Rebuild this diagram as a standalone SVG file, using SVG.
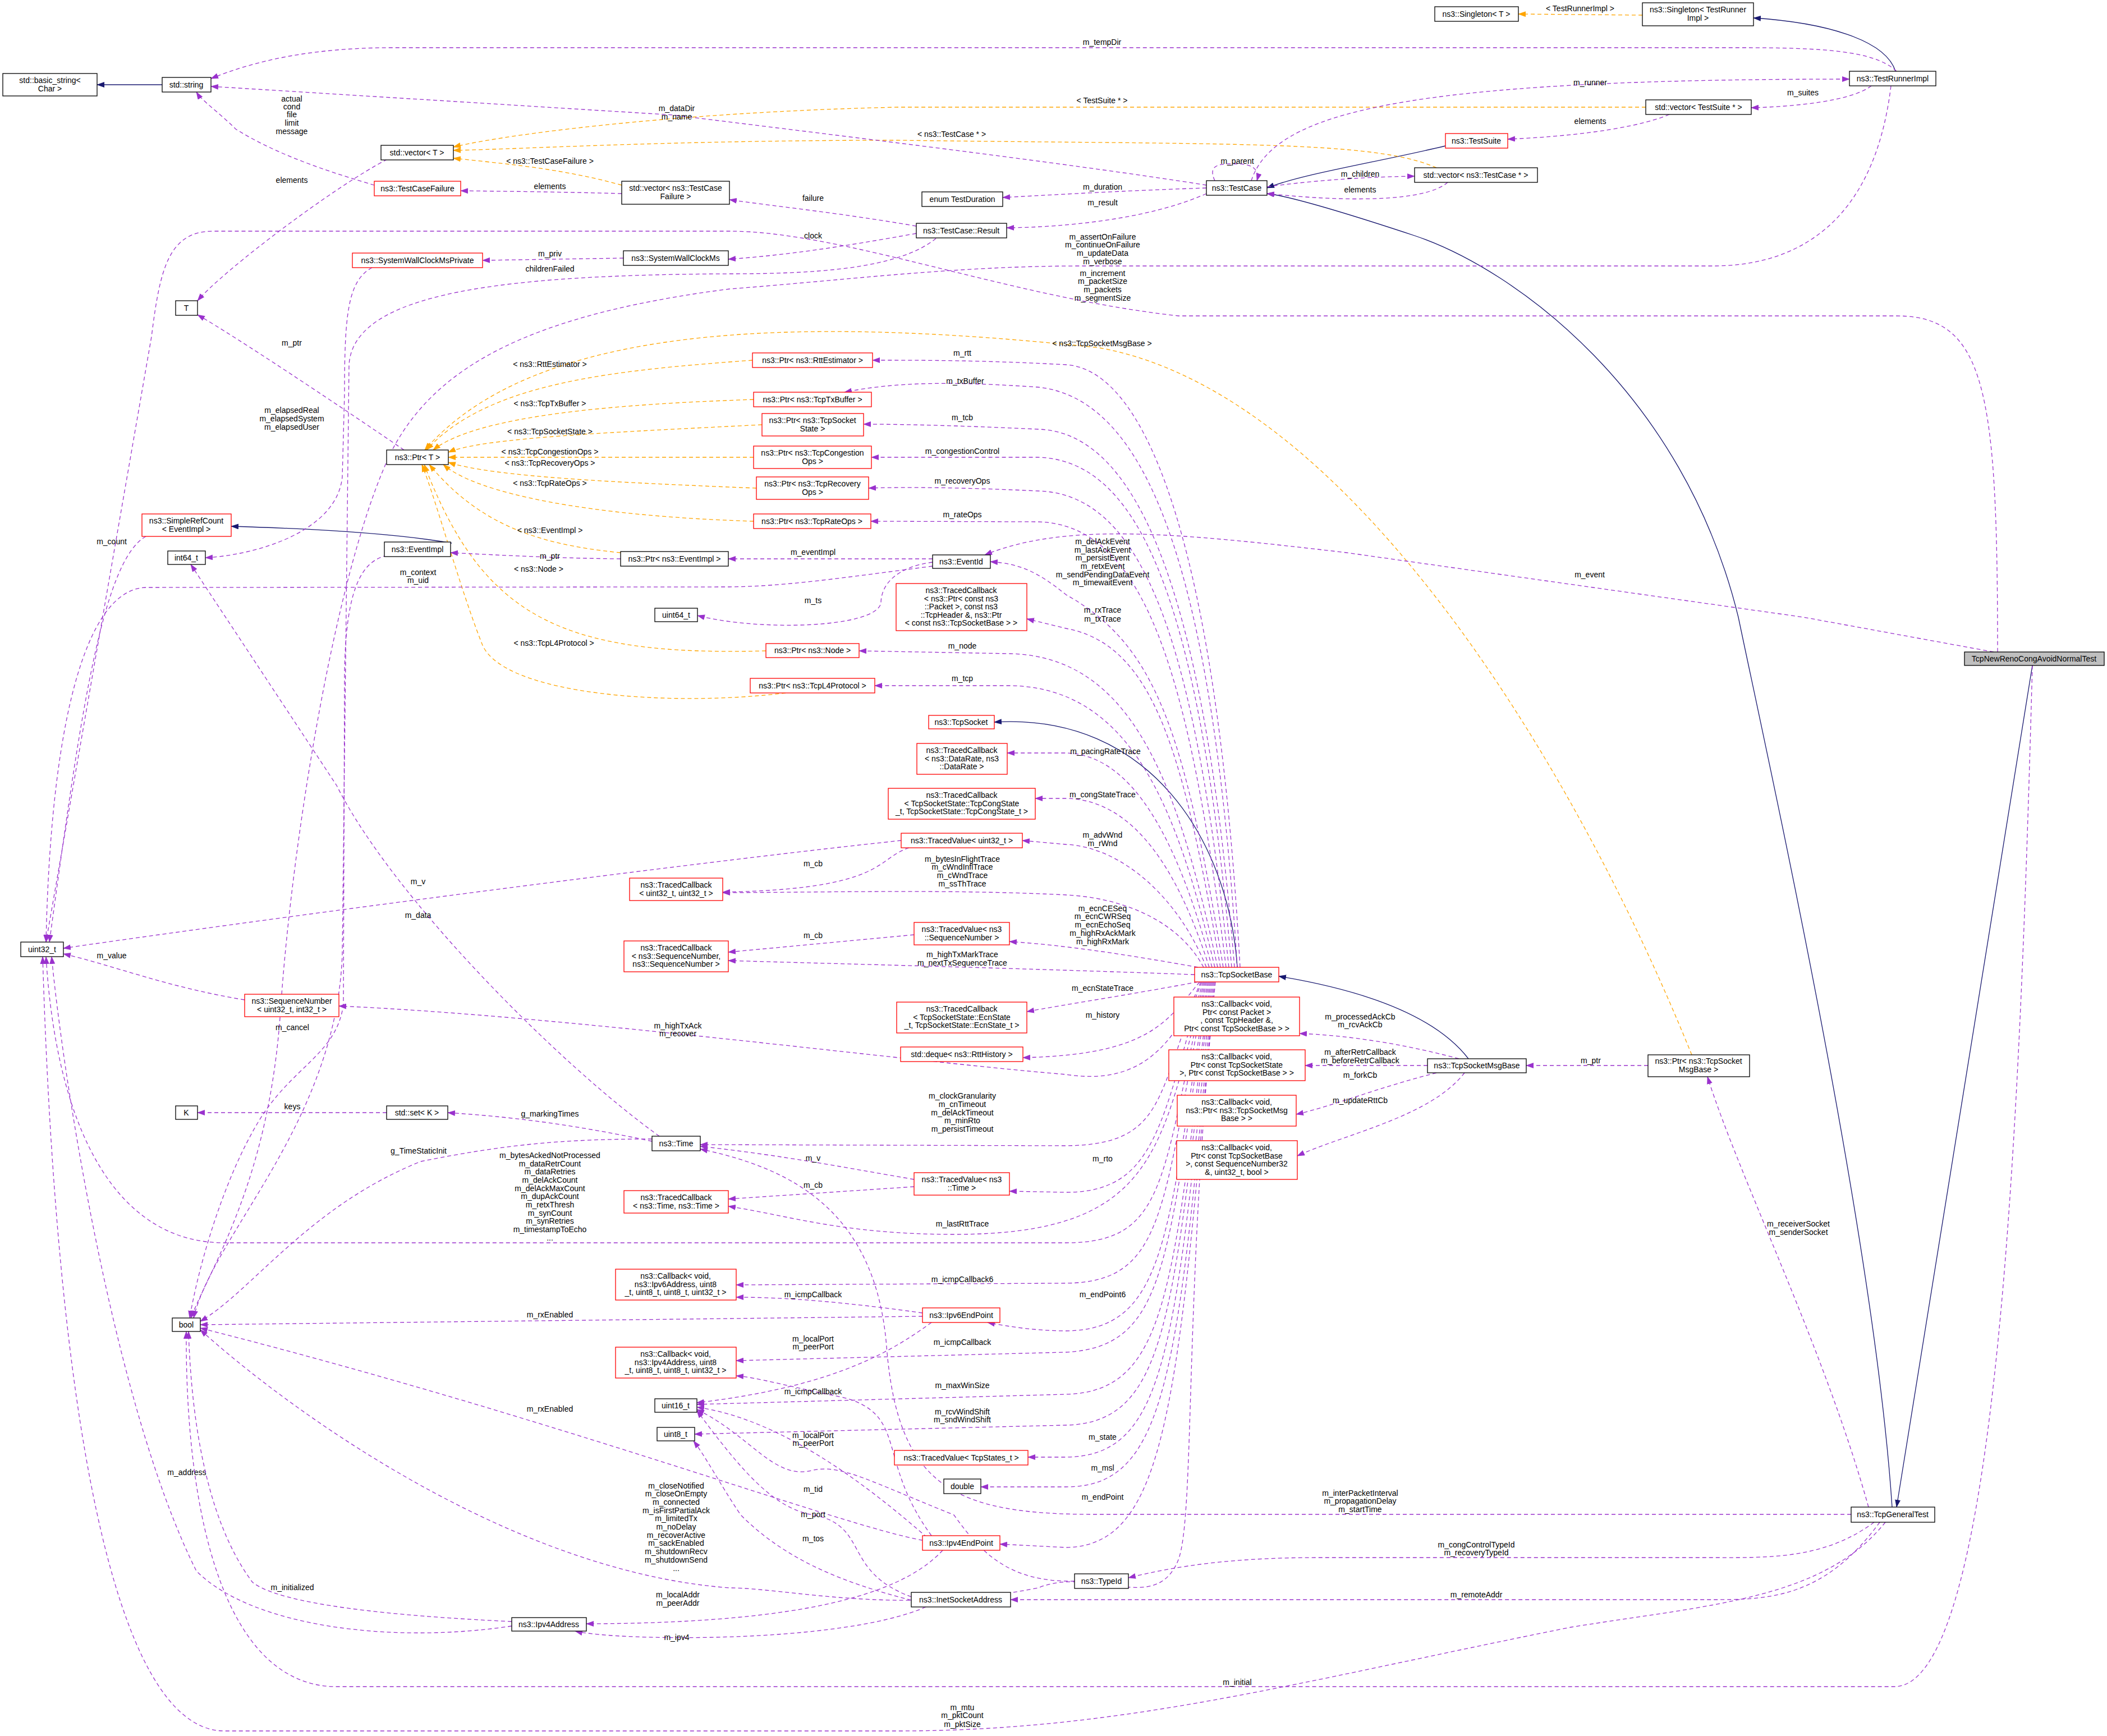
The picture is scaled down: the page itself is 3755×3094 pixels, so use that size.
<svg xmlns="http://www.w3.org/2000/svg" width="3755" height="3094" viewBox="0 0 3755 3094">
<style>
text{font-family:"Liberation Sans",Arial,sans-serif;font-size:14px;text-anchor:middle;fill:#000}
.k{fill:#fff;stroke:#000;stroke-width:1.3}
.r{fill:#fff;stroke:#f00;stroke-width:1.3}
.g{fill:#bfbfbf;stroke:#000;stroke-width:1.3}
.p{fill:none;stroke:#9a32cd;stroke-width:1.3;stroke-dasharray:7,5;marker-end:url(#ap)}
.o{fill:none;stroke:#ffa500;stroke-width:1.3;stroke-dasharray:7,5;marker-end:url(#ao)}
.b{fill:none;stroke:#191970;stroke-width:1.3;marker-end:url(#ab)}
</style>
<defs>
<marker id="ap" markerWidth="14" markerHeight="10" refX="13" refY="5" orient="auto" markerUnits="userSpaceOnUse"><path d="M0,0 L14,5 L0,10 z" fill="#9a32cd"/></marker>
<marker id="ao" markerWidth="14" markerHeight="10" refX="13" refY="5" orient="auto" markerUnits="userSpaceOnUse"><path d="M0,0 L14,5 L0,10 z" fill="#ffa500"/></marker>
<marker id="ab" markerWidth="14" markerHeight="10" refX="13" refY="5" orient="auto" markerUnits="userSpaceOnUse"><path d="M0,0 L14,5 L0,10 z" fill="#191970"/></marker>
</defs>
<rect width="3755" height="3094" fill="#fff"/>
<g id="edges">
<!-- inheritance -->
<path class="b" d="M289,151 L173,151"/>
<path class="b" d="M3378,127 C3360,70 3250,40 3125,32"/>
<path class="b" d="M2576,260 C2450,290 2320,310 2258,335"/>
<path class="b" d="M3372,2686 C3340,2200 3150,1350 3098,1100 C3000,700 2700,480 2521,420 C2400,380 2300,350 2258,345"/>
<path class="b" d="M3622,1186 L3380,2686"/>
<path class="b" d="M2617,1887 C2550,1800 2400,1760 2279,1740"/>
<path class="b" d="M2205,1724 C2190,1500 2050,1270 1772,1287"/>
<path class="b" d="M805,968 C700,950 550,942 412,938"/>
<!-- templates -->
<path class="o" d="M2927,27 L2706,25"/><text x="2816" y="20">&lt; TestRunnerImpl &gt;</text>
<path class="o" d="M2933,191 L1600,191 C1200,200 900,240 808,262"/><text x="1964" y="184">&lt; TestSuite * &gt;</text>
<path class="o" d="M2560,299 C2450,250 2200,258 1600,250 C1200,250 950,265 808,268"/><text x="1696" y="244">&lt; ns3::TestCase * &gt;</text>
<path class="o" d="M1108,330 C1000,300 900,292 808,282"/><text x="980" y="292">&lt; ns3::TestCaseFailure &gt;</text>
<path class="o" d="M3015,1880 C2800,1350 2400,700 1960,620 C1400,560 950,580 757,802"/><text x="1964" y="617">&lt; ns3::TcpSocketMsgBase &gt;</text>
<path class="o" d="M1341,642 C1100,660 870,680 760,802"/><text x="980" y="654">&lt; ns3::RttEstimator &gt;</text>
<path class="o" d="M1343,712 C1100,720 850,740 772,802"/><text x="980" y="724">&lt; ns3::TcpTxBuffer &gt;</text>
<path class="o" d="M1358,757 C1100,770 860,780 799,806"/><text x="980" y="774">&lt; ns3::TcpSocketState &gt;</text>
<path class="o" d="M1343,815 L799,815"/><text x="980" y="810">&lt; ns3::TcpCongestionOps &gt;</text>
<path class="o" d="M1348,870 C1100,860 880,850 799,824"/><text x="980" y="830">&lt; ns3::TcpRecoveryOps &gt;</text>
<path class="o" d="M1343,929 C1050,920 850,880 790,828"/><text x="980" y="866">&lt; ns3::TcpRateOps &gt;</text>
<path class="o" d="M1106,985 C950,970 850,930 765,828"/><text x="980" y="950">&lt; ns3::EventImpl &gt;</text>
<path class="o" d="M1365,1160 C1000,1170 860,1100 756,828"/><text x="960" y="1019">&lt; ns3::Node &gt;</text>
<path class="o" d="M1400,1235 C1200,1260 900,1240 860,1150 C820,1050 780,900 752,828"/><text x="987" y="1151">&lt; ns3::TcpL4Protocol &gt;</text>
<!-- test framework members -->
<path class="p" d="M3380,127 C3340,90 3250,85 3100,85 L700,85 C550,85 450,110 376,140"/><text x="1964" y="80">m_tempDir</text>
<path class="p" d="M2230,322 C2270,200 2500,141 3296,141"/><text x="2834" y="152">m_runner</text>
<path class="p" d="M3335,153 C3300,180 3200,190 3121,192"/><text x="3213" y="170">m_suites</text>
<path class="p" d="M2975,204 C2900,235 2760,245 2687,248"/><text x="2834" y="221">elements</text>
<path class="p" d="M2165,322 C2150,290 2180,292 2205,292 C2235,292 2245,305 2240,322"/><text x="2205" y="292">m_parent</text>
<path class="p" d="M2150,335 C2000,340 1900,346 1787,352"/><text x="1965" y="338">m_duration</text>
<path class="p" d="M2258,333 C2350,320 2450,315 2521,314"/><text x="2424" y="315">m_children</text>
<path class="p" d="M2580,325 C2540,360 2400,360 2258,345"/><text x="2424" y="343">elements</text>
<path class="p" d="M2150,345 C2050,390 1900,405 1794,406"/><text x="1965" y="366">m_result</text>
<path class="p" d="M2150,330 C1900,290 1400,230 1200,205 L376,154"/><text x="1206" y="198">m_dataDir</text><text x="1206" y="213">m_name</text>
<path class="p" d="M1633,403 C1500,380 1400,370 1300,356"/><text x="1449" y="358">failure</text>
<path class="p" d="M1633,416 C1500,440 1400,455 1298,462"/><text x="1449" y="425">clock</text>
<path class="p" d="M1108,345 C1000,342 900,341 821,340"/><text x="980" y="337">elements</text>
<path class="p" d="M667,330 C600,310 500,280 420,230 C390,200 360,180 350,164"/><text x="520" y="181">actual</text><text x="520" y="195">cond</text><text x="520" y="209">file</text><text x="520" y="224">limit</text><text x="520" y="239">message</text>
<path class="p" d="M690,284 C600,330 400,480 352,536"/><text x="520" y="326">elements</text>
<path class="p" d="M1111,460 L860,464"/><text x="980" y="457">m_priv</text>
<path class="p" d="M720,802 C600,720 420,600 352,561"/><text x="520" y="616">m_ptr</text>
<path class="p" d="M663,477 C620,500 614,560 614,700 L610,850 C600,950 450,990 366,994"/><text x="520" y="736">m_elapsedReal</text><text x="520" y="751">m_elapsedSystem</text><text x="520" y="766">m_elapsedUser</text>
<path class="p" d="M1668,425 C1600,480 1450,488 1300,488 C900,490 630,520 622,650 L610,1700 C600,2000 380,2200 345,2349"/>
<text x="980" y="484">childrenFailed</text>
<path class="p" d="M3370,153 C3340,400 3200,474 3053,474 L1926,474 C1700,474 1500,500 1300,515 C950,560 780,650 700,800 C600,1000 520,1500 500,1800 C480,2100 380,2250 340,2349"/>
<text x="1965" y="427">m_assertOnFailure</text><text x="1965" y="441">m_continueOnFailure</text><text x="1965" y="456">m_updateData</text><text x="1965" y="471">m_verbose</text>
<path class="p" d="M3560,1162 C3560,700 3540,563 3380,563 L2100,563 C1800,530 1500,412 1300,412 L380,412 C300,412 285,480 270,600 L82,1679"/>
<text x="1965" y="492">m_increment</text><text x="1965" y="506">m_packetSize</text><text x="1965" y="521">m_packets</text><text x="1965" y="536">m_segmentSize</text>
<path class="p" d="M3553,1162 L3214,1100 L2400,985 C2100,950 1900,930 1755,989"/><text x="2833" y="1029">m_event</text>
<!-- event -->
<path class="p" d="M1106,996 C1000,995 900,990 803,985"/><text x="980" y="996">m_ptr</text>
<path class="p" d="M1662,996 L1298,996"/><text x="1449" y="989">m_eventImpl</text>
<path class="p" d="M1662,1009 C1500,1030 1400,1045 1300,1046 L260,1047 C150,1050 90,1300 82,1679"/><text x="745" y="1025">m_context</text><text x="745" y="1039">m_uid</text>
<path class="p" d="M1662,1002 C1600,1010 1570,1040 1570,1075 C1560,1120 1350,1125 1243,1097"/><text x="1449" y="1075">m_ts</text>
<path class="p" d="M260,956 C180,1000 140,1300 88,1679"/><text x="199" y="970">m_count</text>
<path class="p" d="M690,990 C640,1000 616,1060 614,1200 L612,1790 C600,1880 520,1900 460,2000 C400,2100 355,2250 338,2349"/><text x="521" y="1836">m_cancel</text>
<!-- TcpSocketBase upward -->
<path class="p" d="M2210,1724 C2170,1000 2050,660 1900,650 C1750,642 1650,642 1555,642"/><text x="1715" y="634">m_rtt</text>
<path class="p" d="M2205,1724 C2160,1000 2040,710 1850,690 C1700,680 1600,680 1505,699"/><text x="1720" y="684">m_txBuffer</text>
<path class="p" d="M2200,1724 C2150,1100 2040,770 1850,765 C1700,758 1600,756 1539,756"/><text x="1715" y="749">m_tcb</text>
<path class="p" d="M2195,1724 C2140,1100 2040,820 1850,815 L1553,815"/><text x="1715" y="809">m_congestionControl</text>
<path class="p" d="M2190,1724 C2130,1150 2040,880 1850,875 C1700,868 1600,868 1548,870"/><text x="1715" y="862">m_recoveryOps</text>
<path class="p" d="M2185,1724 C2120,1200 2040,935 1850,930 L1552,929"/><text x="1715" y="922">m_rateOps</text>
<path class="p" d="M2180,1724 C2110,1300 2060,1150 1900,1060 C1850,1020 1820,1005 1765,1001"/><text x="1965" y="970">m_delAckEvent</text><text x="1965" y="985">m_lastAckEvent</text><text x="1965" y="999">m_persistEvent</text><text x="1965" y="1014">m_retxEvent</text><text x="1965" y="1029">m_sendPendingDataEvent</text><text x="1965" y="1043">m_timewaitEvent</text>
<path class="p" d="M2175,1724 C2110,1350 2060,1150 1900,1120 L1830,1103"/><text x="1965" y="1092">m_rxTrace</text><text x="1965" y="1108">m_txTrace</text>
<path class="p" d="M2170,1724 C2100,1400 2020,1170 1800,1165 L1531,1160"/><text x="1715" y="1156">m_node</text>
<path class="p" d="M2165,1724 C2100,1450 2020,1225 1800,1222 L1559,1222"/><text x="1715" y="1214">m_tcp</text>
<path class="p" d="M2160,1724 C2100,1500 2020,1345 1900,1342 L1795,1342"/><text x="1970" y="1344">m_pacingRateTrace</text>
<path class="p" d="M2155,1724 C2100,1550 2020,1425 1900,1423 L1845,1423"/><text x="1965" y="1421">m_congStateTrace</text>
<path class="p" d="M2150,1724 C2100,1600 2000,1510 1900,1505 L1822,1498"/><text x="1965" y="1493">m_advWnd</text><text x="1965" y="1508">m_rWnd</text>
<path class="p" d="M2145,1724 C2100,1640 2000,1600 1900,1595 C1700,1585 1500,1590 1288,1591"/><text x="1715" y="1536">m_bytesInFlightTrace</text><text x="1715" y="1550">m_cWndInflTrace</text><text x="1715" y="1565">m_cWndTrace</text><text x="1715" y="1580">m_ssThTrace</text>
<path class="p" d="M2135,1724 C2000,1700 1900,1685 1799,1678"/><text x="1965" y="1624">m_ecnCESeq</text><text x="1965" y="1638">m_ecnCWRSeq</text><text x="1965" y="1653">m_ecnEchoSeq</text><text x="1965" y="1668">m_highRxAckMark</text><text x="1965" y="1683">m_highRxMark</text>
<path class="p" d="M2129,1737 C1800,1725 1500,1718 1298,1712"/><text x="1715" y="1706">m_highTxMarkTrace</text><text x="1715" y="1721">m_nextTxSequenceTrace</text>
<!-- TcpSocketBase downward -->
<path class="p" d="M2135,1750 C2000,1775 1900,1790 1830,1803"/><text x="1965" y="1766">m_ecnStateTrace</text>
<path class="p" d="M2138,1750 C2080,1820 2050,1880 1823,1885"/><text x="1965" y="1814">m_history</text>
<path class="p" d="M2140,1750 C2080,1900 2000,1930 1900,1915 C1600,1890 1000,1810 604,1793"/><text x="1208" y="1833">m_highTxAck</text><text x="1208" y="1847">m_recover</text>
<path class="p" d="M2142,1750 C2060,1950 2080,2040 1900,2042 L1248,2040"/><text x="1715" y="1958">m_clockGranularity</text><text x="1715" y="1973">m_cnTimeout</text><text x="1715" y="1988">m_delAckTimeout</text><text x="1715" y="2002">m_minRto</text><text x="1715" y="2017">m_persistTimeout</text>
<path class="p" d="M2144,1750 C2070,2000 2060,2125 1900,2125 L1799,2123"/><text x="1965" y="2070">m_rto</text>
<path class="p" d="M2146,1750 C2070,2050 2060,2200 1700,2200 C1500,2200 1400,2165 1298,2150"/><text x="1715" y="2186">m_lastRttTrace</text>
<path class="p" d="M2148,1750 C2070,2100 2080,2215 1900,2215 L400,2215 C200,2215 100,2000 82,1705"/>
<text x="980" y="2064">m_bytesAckedNotProcessed</text><text x="980" y="2079">m_dataRetrCount</text><text x="980" y="2093">m_dataRetries</text><text x="980" y="2108">m_delAckCount</text><text x="980" y="2123">m_delAckMaxCount</text><text x="980" y="2137">m_dupAckCount</text><text x="980" y="2152">m_retxThresh</text><text x="980" y="2167">m_synCount</text><text x="980" y="2181">m_synRetries</text><text x="980" y="2196">m_timestampToEcho</text><text x="980" y="2211">...</text>
<path class="p" d="M2150,1750 C2070,2150 2080,2285 1900,2287 L1312,2290"/><text x="1715" y="2285">m_icmpCallback6</text>
<path class="p" d="M2152,1750 C2080,2200 2080,2370 1900,2372 C1850,2372 1800,2365 1760,2357"/><text x="1965" y="2312">m_endPoint6</text>
<path class="p" d="M2154,1750 C2080,2250 2080,2400 1900,2410 L1312,2425"/><text x="1715" y="2397">m_icmpCallback</text>
<path class="p" d="M2156,1750 C2090,2300 2080,2480 1900,2485 L1242,2503"/><text x="1715" y="2474">m_maxWinSize</text>
<path class="p" d="M2158,1750 C2090,2350 2080,2535 1900,2540 L1238,2556"/><text x="1715" y="2521">m_rcvWindShift</text><text x="1715" y="2535">m_sndWindShift</text>
<path class="p" d="M2160,1750 C2095,2400 2080,2595 1900,2597 L1832,2597"/><text x="1965" y="2566">m_state</text>
<path class="p" d="M2162,1750 C2100,2450 2080,2650 1900,2650 L1748,2650"/><text x="1965" y="2621">m_msl</text>
<path class="p" d="M2164,1750 C2100,2500 2080,2755 1900,2758 L1782,2752"/><text x="1965" y="2673">m_endPoint</text>
<path class="p" d="M2166,1750 C2110,2300 2130,2700 2100,2780 C2060,2880 1950,2790 1850,2830 C1600,2880 1400,2830 1300,2830 C900,2800 500,2500 357,2370"/>
<text x="1205" y="2653">m_closeNotified</text><text x="1205" y="2667">m_closeOnEmpty</text><text x="1205" y="2682">m_connected</text><text x="1205" y="2697">m_isFirstPartialAck</text><text x="1205" y="2711">m_limitedTx</text><text x="1205" y="2726">m_noDelay</text><text x="1205" y="2741">m_recoverActive</text><text x="1205" y="2755">m_sackEnabled</text><text x="1205" y="2770">m_shutdownRecv</text><text x="1205" y="2785">m_shutdownSend</text><text x="1205" y="2800">...</text>
<!-- traced values etc -->
<path class="p" d="M1606,1498 C1300,1530 600,1620 113,1690"/><text x="745" y="1576">m_v</text>
<path class="p" d="M1620,1511 C1560,1530 1580,1585 1288,1590"/><text x="1449" y="1544">m_cb</text>
<path class="p" d="M1629,1666 L1298,1697"/><text x="1449" y="1672">m_cb</text>
<path class="p" d="M436,1782 C300,1760 200,1720 113,1700"/><text x="199" y="1708">m_value</text>
<path class="p" d="M1629,2102 C1500,2080 1400,2060 1248,2043"/><text x="1449" y="2069">m_v</text>
<path class="p" d="M1629,2115 L1298,2137"/><text x="1449" y="2117">m_cb</text>
<path class="p" d="M1175,2025 C1000,1900 700,1600 600,1400 L340,1006"/><text x="745" y="1636">m_data</text>
<path class="p" d="M1162,2034 C1000,2000 900,1990 798,1983"/><text x="980" y="1990">g_markingTimes</text>
<path class="p" d="M689,1983 L352,1983"/><text x="521" y="1977">keys</text>
<path class="p" d="M1162,2030 C1000,2030 900,2040 750,2070 C550,2150 450,2300 357,2355"/><text x="746" y="2056">g_TimeStaticInit</text>
<path class="p" d="M1644,2340 C1500,2320 1400,2312 1312,2312"/><text x="1449" y="2312">m_icmpCallback</text>
<path class="p" d="M1644,2346 L357,2361"/><text x="980" y="2348">m_rxEnabled</text>
<path class="p" d="M1660,2357 C1600,2400 1500,2470 1242,2500"/><text x="1449" y="2391">m_localPort</text><text x="1449" y="2405">m_peerPort</text>
<path class="p" d="M1660,2737 C1560,2600 1620,2520 1500,2490 C1400,2470 1350,2455 1312,2452"/><text x="1449" y="2485">m_icmpCallback</text>
<path class="p" d="M1644,2745 C1500,2720 1000,2530 357,2367"/><text x="980" y="2516">m_rxEnabled</text>
<path class="p" d="M1652,2740 C1560,2660 1400,2530 1242,2508"/><text x="1449" y="2563">m_localPort</text><text x="1449" y="2577">m_peerPort</text>
<path class="p" d="M1915,2818 C1800,2820 1750,2770 1700,2700 C1550,2640 1500,2610 1450,2620 C1380,2640 1340,2560 1242,2512"/><text x="1449" y="2659">m_tid</text>
<path class="p" d="M1624,2846 C1500,2800 1550,2720 1450,2700 C1380,2690 1320,2620 1242,2514"/><text x="1449" y="2704">m_port</text>
<path class="p" d="M1624,2852 C1500,2820 1400,2780 1320,2700 C1280,2640 1260,2600 1236,2568"/><text x="1449" y="2747">m_tos</text>
<path class="p" d="M1680,2763 C1600,2850 1400,2893 1045,2894"/><text x="1208" y="2847">m_localAddr</text><text x="1208" y="2862">m_peerAddr</text>
<path class="p" d="M1650,2864 C1500,2930 1100,2925 1025,2907"/><text x="1206" y="2923">m_ipv4</text>
<path class="p" d="M912,2898 C700,2930 450,2900 350,2800 C200,2500 110,1900 92,1705"/><text x="333" y="2629">m_address</text>
<path class="p" d="M912,2890 C700,2880 500,2860 450,2820 C360,2700 340,2500 336,2373"/><text x="521" y="2834">m_initialized</text>
<!-- TcpSocketMsgBase -->
<path class="p" d="M2600,1887 C2500,1860 2400,1845 2316,1842"/><text x="2424" y="1817">m_processedAckCb</text><text x="2424" y="1831">m_rcvAckCb</text>
<path class="p" d="M2544,1899 L2326,1899"/><text x="2424" y="1880">m_afterRetrCallback</text><text x="2424" y="1895">m_beforeRetrCallback</text>
<path class="p" d="M2560,1912 C2450,1940 2380,1970 2310,1986"/><text x="2424" y="1921">m_forkCb</text>
<path class="p" d="M2610,1912 C2550,1990 2400,2020 2312,2060"/><text x="2424" y="1966">m_updateRttCb</text>
<path class="p" d="M2937,1899 L2720,1899"/><text x="2835" y="1895">m_ptr</text>
<!-- TcpGeneralTest -->
<path class="p" d="M3330,2686 C3250,2400 3100,2100 3043,1919"/><text x="3205" y="2186">m_receiverSocket</text><text x="3205" y="2201">m_senderSocket</text>
<path class="p" d="M3299,2699 L1950,2699 C1700,2699 1600,2650 1580,2400 C1560,2150 1400,2080 1248,2048"/><text x="2424" y="2666">m_interPacketInterval</text><text x="2424" y="2680">m_propagationDelay</text><text x="2424" y="2695">m_startTime</text>
<path class="p" d="M3340,2713 C3250,2780 3150,2776 3050,2776 L2350,2776 C2200,2776 2100,2790 2011,2812"/><text x="2631" y="2758">m_congControlTypeId</text><text x="2631" y="2772">m_recoveryTypeId</text>
<path class="p" d="M3350,2713 C3250,2850 3150,2851 3050,2851 L1801,2851"/><text x="2631" y="2847">m_remoteAddr</text>
<path class="p" d="M3622,1186 C3600,2000 3560,2990 3380,3006 L600,3006 C400,3006 330,2700 332,2373"/><text x="2205" y="3003">m_initial</text>
<path class="p" d="M3360,2713 C3250,2850 3050,2860 2800,2900 C2300,3000 2000,3085 1600,3085 L400,3085 C200,3085 100,2500 76,1705"/><text x="1715" y="3048">m_mtu</text><text x="1715" y="3062">m_pktCount</text><text x="1715" y="3078">m_pktSize</text>
</g>
<g id="n1"><rect class="k" x="5" y="131" width="168" height="40"/><text x="89" y="148">std::basic_string&lt;</text><text x="89" y="163">Char &gt;</text></g>
<g id="n2"><rect class="k" x="289" y="138" width="87" height="26"/><text x="332" y="156">std::string</text></g>
<g id="n3"><rect class="k" x="679" y="259" width="129" height="26"/><text x="743" y="277">std::vector&lt; T &gt;</text></g>
<g id="n4"><rect class="r" x="667" y="323" width="154" height="26"/><text x="744" y="341">ns3::TestCaseFailure</text></g>
<g id="n5"><rect class="k" x="1108" y="323" width="192" height="41"/><text x="1204" y="340">std::vector&lt; ns3::TestCase</text><text x="1204" y="355">Failure &gt;</text></g>
<g id="n6"><rect class="r" x="628" y="451" width="232" height="26"/><text x="744" y="469">ns3::SystemWallClockMsPrivate</text></g>
<g id="n7"><rect class="k" x="1111" y="447" width="187" height="26"/><text x="1204" y="465">ns3::SystemWallClockMs</text></g>
<g id="n8"><rect class="k" x="313" y="536" width="39" height="26"/><text x="332" y="554">T</text></g>
<g id="n9"><rect class="k" x="689" y="802" width="110" height="26"/><text x="744" y="820">ns3::Ptr&lt; T &gt;</text></g>
<g id="n10"><rect class="r" x="253" y="916" width="159" height="40"/><text x="332" y="933">ns3::SimpleRefCount</text><text x="332" y="948">&lt; EventImpl &gt;</text></g>
<g id="n11"><rect class="k" x="685" y="966" width="118" height="26"/><text x="744" y="984">ns3::EventImpl</text></g>
<g id="n12"><rect class="k" x="299" y="982" width="67" height="24"/><text x="332" y="999">int64_t</text></g>
<g id="n13"><rect class="k" x="1106" y="983" width="192" height="26"/><text x="1202" y="1001">ns3::Ptr&lt; ns3::EventImpl &gt;</text></g>
<g id="n14"><rect class="k" x="1167" y="1084" width="76" height="24"/><text x="1205" y="1101">uint64_t</text></g>
<g id="n15"><rect class="k" x="37" y="1679" width="76" height="26"/><text x="75" y="1697">uint32_t</text></g>
<g id="n16"><rect class="r" x="1122" y="1565" width="166" height="40"/><text x="1205" y="1582">ns3::TracedCallback</text><text x="1205" y="1597">&lt; uint32_t, uint32_t &gt;</text></g>
<g id="n17"><rect class="r" x="1112" y="1677" width="186" height="55"/><text x="1205" y="1694">ns3::TracedCallback</text><text x="1205" y="1709">&lt; ns3::SequenceNumber,</text><text x="1205" y="1723">ns3::SequenceNumber &gt;</text></g>
<g id="n18"><rect class="r" x="436" y="1772" width="168" height="40"/><text x="520" y="1789">ns3::SequenceNumber</text><text x="520" y="1804">&lt; uint32_t, int32_t &gt;</text></g>
<g id="n19"><rect class="k" x="313" y="1971" width="39" height="24"/><text x="332" y="1988">K</text></g>
<g id="n20"><rect class="k" x="689" y="1971" width="109" height="24"/><text x="743" y="1988">std::set&lt; K &gt;</text></g>
<g id="n21"><rect class="k" x="1162" y="2025" width="86" height="26"/><text x="1205" y="2043">ns3::Time</text></g>
<g id="n22"><rect class="r" x="1112" y="2122" width="186" height="40"/><text x="1205" y="2139">ns3::TracedCallback</text><text x="1205" y="2154">&lt; ns3::Time, ns3::Time &gt;</text></g>
<g id="n23"><rect class="k" x="307" y="2349" width="50" height="24"/><text x="332" y="2366">bool</text></g>
<g id="n24"><rect class="r" x="1097" y="2262" width="215" height="55"/><text x="1204" y="2279">ns3::Callback&lt; void,</text><text x="1204" y="2294">ns3::Ipv6Address, uint8</text><text x="1204" y="2308">_t, uint8_t, uint8_t, uint32_t &gt;</text></g>
<g id="n25"><rect class="r" x="1097" y="2401" width="215" height="55"/><text x="1204" y="2418">ns3::Callback&lt; void,</text><text x="1204" y="2433">ns3::Ipv4Address, uint8</text><text x="1204" y="2447">_t, uint8_t, uint8_t, uint32_t &gt;</text></g>
<g id="n26"><rect class="k" x="1167" y="2493" width="75" height="24"/><text x="1204" y="2510">uint16_t</text></g>
<g id="n27"><rect class="k" x="1171" y="2544" width="67" height="24"/><text x="1204" y="2561">uint8_t</text></g>
<g id="n28"><rect class="r" x="1594" y="2585" width="238" height="26"/><text x="1713" y="2603">ns3::TracedValue&lt; TcpStates_t &gt;</text></g>
<g id="n29"><rect class="k" x="1682" y="2636" width="66" height="26"/><text x="1715" y="2654">double</text></g>
<g id="n30"><rect class="r" x="1644" y="2737" width="138" height="26"/><text x="1713" y="2755">ns3::Ipv4EndPoint</text></g>
<g id="n31"><rect class="k" x="1915" y="2805" width="96" height="26"/><text x="1963" y="2823">ns3::TypeId</text></g>
<g id="n32"><rect class="k" x="1624" y="2838" width="177" height="26"/><text x="1712" y="2856">ns3::InetSocketAddress</text></g>
<g id="n33"><rect class="k" x="912" y="2883" width="133" height="24"/><text x="978" y="2900">ns3::Ipv4Address</text></g>
<g id="n34"><rect class="k" x="1643" y="342" width="144" height="26"/><text x="1715" y="360">enum TestDuration</text></g>
<g id="n35"><rect class="k" x="1633" y="398" width="161" height="26"/><text x="1713" y="416">ns3::TestCase::Result</text></g>
<g id="n36"><rect class="k" x="2150" y="322" width="108" height="26"/><text x="2204" y="340">ns3::TestCase</text></g>
<g id="n37"><rect class="r" x="2576" y="238" width="111" height="26"/><text x="2631" y="256">ns3::TestSuite</text></g>
<g id="n38"><rect class="k" x="2521" y="299" width="219" height="26"/><text x="2630" y="317">std::vector&lt; ns3::TestCase * &gt;</text></g>
<g id="n39"><rect class="k" x="2933" y="178" width="188" height="26"/><text x="3027" y="196">std::vector&lt; TestSuite * &gt;</text></g>
<g id="n40"><rect class="k" x="3296" y="127" width="154" height="26"/><text x="3373" y="145">ns3::TestRunnerImpl</text></g>
<g id="n41"><rect class="k" x="2557" y="12" width="149" height="26"/><text x="2631" y="30">ns3::Singleton&lt; T &gt;</text></g>
<g id="n42"><rect class="k" x="2927" y="5" width="198" height="41"/><text x="3026" y="22">ns3::Singleton&lt; TestRunner</text><text x="3026" y="37">Impl &gt;</text></g>
<g id="n43"><rect class="g" x="3501" y="1162" width="249" height="24"/><text x="3625" y="1179">TcpNewRenoCongAvoidNormalTest</text></g>
<g id="n44"><rect class="k" x="2544" y="1887" width="176" height="25"/><text x="2632" y="1904">ns3::TcpSocketMsgBase</text></g>
<g id="n45"><rect class="k" x="2937" y="1880" width="181" height="39"/><text x="3027" y="1896">ns3::Ptr&lt; ns3::TcpSocket</text><text x="3027" y="1911">MsgBase &gt;</text></g>
<g id="n46"><rect class="k" x="3299" y="2686" width="149" height="27"/><text x="3373" y="2704">ns3::TcpGeneralTest</text></g>
<g id="n47"><rect class="r" x="1341" y="629" width="214" height="26"/><text x="1448" y="647">ns3::Ptr&lt; ns3::RttEstimator &gt;</text></g>
<g id="n48"><rect class="r" x="1343" y="699" width="210" height="26"/><text x="1448" y="717">ns3::Ptr&lt; ns3::TcpTxBuffer &gt;</text></g>
<g id="n49"><rect class="r" x="1358" y="737" width="181" height="40"/><text x="1448" y="754">ns3::Ptr&lt; ns3::TcpSocket</text><text x="1448" y="769">State &gt;</text></g>
<g id="n50"><rect class="r" x="1343" y="795" width="210" height="40"/><text x="1448" y="812">ns3::Ptr&lt; ns3::TcpCongestion</text><text x="1448" y="827">Ops &gt;</text></g>
<g id="n51"><rect class="r" x="1348" y="850" width="200" height="40"/><text x="1448" y="867">ns3::Ptr&lt; ns3::TcpRecovery</text><text x="1448" y="882">Ops &gt;</text></g>
<g id="n52"><rect class="r" x="1343" y="916" width="209" height="26"/><text x="1447" y="934">ns3::Ptr&lt; ns3::TcpRateOps &gt;</text></g>
<g id="n53"><rect class="k" x="1662" y="989" width="103" height="24"/><text x="1713" y="1006">ns3::EventId</text></g>
<g id="n54"><rect class="r" x="1597" y="1040" width="233" height="84"/><text x="1713" y="1057">ns3::TracedCallback</text><text x="1713" y="1072">&lt; ns3::Ptr&lt; const ns3</text><text x="1713" y="1086">::Packet &gt;, const ns3</text><text x="1713" y="1101">::TcpHeader &amp;, ns3::Ptr</text><text x="1713" y="1115">&lt; const ns3::TcpSocketBase &gt; &gt;</text></g>
<g id="n55"><rect class="r" x="1365" y="1147" width="166" height="25"/><text x="1448" y="1164">ns3::Ptr&lt; ns3::Node &gt;</text></g>
<g id="n56"><rect class="r" x="1337" y="1209" width="222" height="26"/><text x="1448" y="1227">ns3::Ptr&lt; ns3::TcpL4Protocol &gt;</text></g>
<g id="n57"><rect class="r" x="1655" y="1275" width="117" height="24"/><text x="1713" y="1292">ns3::TcpSocket</text></g>
<g id="n58"><rect class="r" x="1634" y="1325" width="161" height="55"/><text x="1714" y="1342">ns3::TracedCallback</text><text x="1714" y="1357">&lt; ns3::DataRate, ns3</text><text x="1714" y="1371">::DataRate &gt;</text></g>
<g id="n59"><rect class="r" x="1583" y="1405" width="262" height="55"/><text x="1714" y="1422">ns3::TracedCallback</text><text x="1714" y="1437">&lt; TcpSocketState::TcpCongState</text><text x="1714" y="1451">_t, TcpSocketState::TcpCongState_t &gt;</text></g>
<g id="n60"><rect class="r" x="1606" y="1485" width="216" height="26"/><text x="1714" y="1503">ns3::TracedValue&lt; uint32_t &gt;</text></g>
<g id="n61"><rect class="r" x="1629" y="1644" width="170" height="40"/><text x="1714" y="1661">ns3::TracedValue&lt; ns3</text><text x="1714" y="1676">::SequenceNumber &gt;</text></g>
<g id="n62"><rect class="r" x="2129" y="1724" width="150" height="26"/><text x="2204" y="1742">ns3::TcpSocketBase</text></g>
<g id="n63"><rect class="r" x="1598" y="1786" width="232" height="55"/><text x="1714" y="1803">ns3::TracedCallback</text><text x="1714" y="1818">&lt; TcpSocketState::EcnState</text><text x="1714" y="1832">_t, TcpSocketState::EcnState_t &gt;</text></g>
<g id="n64"><rect class="r" x="1605" y="1866" width="218" height="26"/><text x="1714" y="1884">std::deque&lt; ns3::RttHistory &gt;</text></g>
<g id="n65"><rect class="r" x="2092" y="1777" width="224" height="69"/><text x="2204" y="1794">ns3::Callback&lt; void,</text><text x="2204" y="1809">Ptr&lt; const Packet &gt;</text><text x="2204" y="1823">, const TcpHeader &amp;,</text><text x="2204" y="1838">Ptr&lt; const TcpSocketBase &gt; &gt;</text></g>
<g id="n66"><rect class="r" x="2083" y="1871" width="243" height="55"/><text x="2204" y="1888">ns3::Callback&lt; void,</text><text x="2204" y="1903">Ptr&lt; const TcpSocketState</text><text x="2204" y="1917">&gt;, Ptr&lt; const TcpSocketBase &gt; &gt;</text></g>
<g id="n67"><rect class="r" x="2098" y="1952" width="212" height="55"/><text x="2204" y="1969">ns3::Callback&lt; void,</text><text x="2204" y="1984">ns3::Ptr&lt; ns3::TcpSocketMsg</text><text x="2204" y="1998">Base &gt; &gt;</text></g>
<g id="n68"><rect class="r" x="2097" y="2033" width="215" height="69"/><text x="2204" y="2050">ns3::Callback&lt; void,</text><text x="2204" y="2065">Ptr&lt; const TcpSocketBase</text><text x="2204" y="2079">&gt;, const SequenceNumber32</text><text x="2204" y="2094">&amp;, uint32_t, bool &gt;</text></g>
<g id="n69"><rect class="r" x="1629" y="2090" width="170" height="40"/><text x="1714" y="2107">ns3::TracedValue&lt; ns3</text><text x="1714" y="2122">::Time &gt;</text></g>
<g id="n70"><rect class="r" x="1644" y="2331" width="138" height="26"/><text x="1713" y="2349">ns3::Ipv6EndPoint</text></g>
</svg>
